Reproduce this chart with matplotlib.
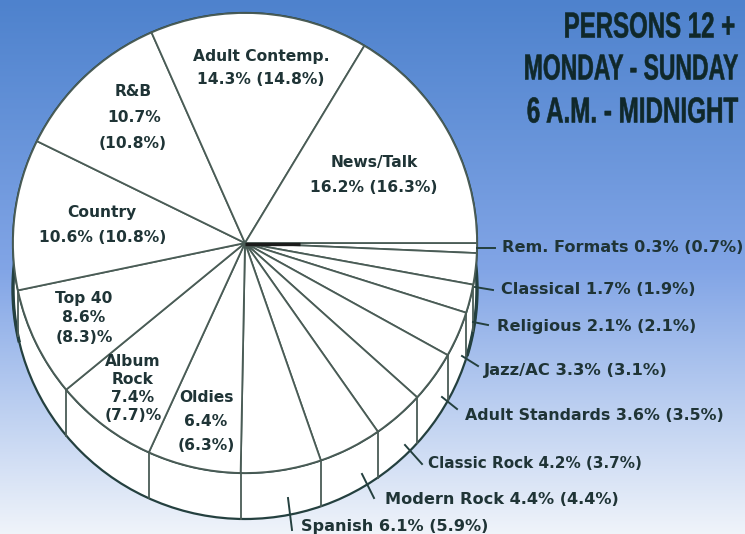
#!/usr/bin/env python3
"""Radio format shares, drawn as a tilted pie on a blue gradient."""

import matplotlib

matplotlib.use("Agg")

import matplotlib.pyplot as plt
import numpy as np
from matplotlib.patches import Ellipse, Wedge
from matplotlib.patheffects import AbstractPathEffect
from matplotlib.transforms import Affine2D

# slices clockwise from 3 o'clock; drawn_share is what the picture shows
slice_names = ["Rem. Formats", "Classical", "Religious", "Jazz/AC", "Adult Standards",
               "Classic Rock", "Modern Rock", "Spanish", "Oldies", "Album Rock", "Top 40",
               "Country", "R&B", "Adult Contemp.", "News/Talk"]
drawn_share = [0.7, 2.2, 2.0, 3.2, 3.6, 3.6, 4.4, 5.6, 6.5, 7.2, 7.7, 10.6, 11.1, 15.2, 16.4]

title_lines = ["PERSONS 12 +", "MONDAY - SUNDAY", "6 A.M. - MIDNIGHT"]
title_y = [28, 70, 113]
title_right = [735, 738, 738]
title_squeeze = [0.665, 0.635, 0.67]

outer_labels = ["Rem. Formats 0.3% (0.7%)", "Classical 1.7% (1.9%)", "Religious 2.1% (2.1%)",
                "Jazz/AC 3.3% (3.1%)", "Adult Standards 3.6% (3.5%)", "Classic Rock 4.2% (3.7%)",
                "Modern Rock 4.4% (4.4%)", "Spanish 6.1% (5.9%)"]
outer_x = [502, 501, 497, 484, 465, 428, 385, 301]
outer_y = [248, 290, 327, 370, 415, 464, 499, 526]
outer_size = [11.6, 11.6, 11.6, 11.8, 11.4, 11.0, 11.6, 11.6]
leader_from = [(477, 248), (475, 287), (473, 322), (462, 356), (442, 397), (405, 445), (362, 474), (288, 498)]
leader_to = [(495, 248), (493, 290), (488, 325), (478, 366), (457, 409), (422, 464), (374, 498), (292, 530)]

inner_labels = ["Adult Contemp.", "14.3% (14.8%)", "R&B", "10.7%", "(10.8%)", "News/Talk",
                "16.2% (16.3%)", "Country", "10.6% (10.8%)", "Top 40", "8.6%", "(8.3)%",
                "Album", "Rock", "7.4%", "(7.7)%", "Oldies", "6.4%", "(6.3%)"]
inner_x = [261, 261, 133, 134, 133, 374, 374, 102, 103, 84, 84, 84, 133, 133, 133, 133, 206, 206, 206]
inner_y = [56, 80, 92, 117, 143, 163, 187, 213, 237, 298, 318, 337, 361, 379, 397, 415, 397, 422, 446]

CX, CY = 245, 243
RX, RY = 232, 230
DEPTH = 46
LINE = "#4a5c56"
EDGE = "#24403f"
INK = "#1f3436"


class Squeeze(AbstractPathEffect):
    """Narrow and thicken the glyphs, there is no condensed font here."""

    def __init__(self, anchor, factor):
        super().__init__()
        self.anchor = anchor
        self.factor = factor

    def draw_path(self, renderer, gc, tpath, affine, rgbFace=None):
        narrow = Affine2D().translate(-self.anchor, 0).scale(self.factor, 1).translate(self.anchor, 0)
        heavy = renderer.new_gc()
        heavy.copy_properties(gc)
        heavy.set_foreground(rgbFace)
        heavy.set_linewidth(0.4)
        renderer.draw_path(heavy, tpath, affine + narrow, rgbFace)
        heavy.restore()


fig = plt.figure(figsize=(7.45, 5.34), dpi=100)
ax = fig.add_axes([0, 0, 1, 1])

# background gradient, blue at the top to near white at the bottom
rows = np.arange(534)
gradient = np.stack([np.interp(rows, [0, 130, 270, 400, 534], stops)
                     for stops in ([78, 102, 130, 185, 240],
                                   [130, 147, 165, 205, 244],
                                   [205, 217, 230, 240, 250])], axis=1) / 255
ax.imshow(gradient[:, None, :], extent=(0, 745, 534, 0), aspect="auto", zorder=0)
ax.set_xlim(0, 745)
ax.set_ylim(534, 0)
ax.axis("off")

# side wall first, then the top face over it
ax.add_patch(Ellipse((CX, CY + DEPTH), 2 * RX, 2 * RY, fc="white", ec=EDGE, lw=1.6, zorder=1))
ax.add_patch(Ellipse((CX, CY), 2 * RX, 2 * RY, fc="white", ec=EDGE, lw=1.6, zorder=2))

# heavy parts of the wall outline at both sides
for first, last in [(-11, 16.5), (167, 192)]:
    t = np.radians(np.linspace(first, last, 40))
    ax.plot(CX + RX * np.cos(t), CY + DEPTH + RY * np.sin(t), color=EDGE, lw=2.4, zorder=2)

face = Affine2D().scale(RX, RY).translate(CX, CY) + ax.transData
boundaries = np.cumsum([0] + drawn_share) / sum(drawn_share) * 360
for start, end in zip(boundaries[:-1], boundaries[1:]):
    ax.add_patch(Wedge((0, 0), 1, start, end, fc="white", ec=LINE, lw=1.3, zorder=3, transform=face))

# vertical seams on the visible part of the wall
for angle in boundaries[1:-1]:
    if 8 < angle < 170:
        t = np.radians(angle)
        x = CX + RX * np.cos(t)
        y = CY + RY * np.sin(t)
        ax.plot([x, x], [y, y + DEPTH], color=LINE, lw=1.3, zorder=4)

# the spokes run together into a dark tip at the centre
ax.plot([CX, CX + 55], [CY + 1, CY + 1], color="#1c1c1c", lw=2.4, zorder=5, solid_capstyle="butt")

for start, end in zip(leader_from, leader_to):
    ax.plot([start[0], end[0]], [start[1], end[1]], color=EDGE, lw=1.4, zorder=5)

for text, x, y in zip(inner_labels, inner_x, inner_y):
    ax.text(x, y, text, ha="center", va="center", fontsize=11.2, fontweight="bold", color=INK, zorder=6)
for text, x, y, size in zip(outer_labels, outer_x, outer_y, outer_size):
    ax.text(x, y, text, ha="left", va="center", fontsize=size, fontweight="bold", color=INK, zorder=6)
for text, y, right, factor in zip(title_lines, title_y, title_right, title_squeeze):
    ax.text(right, y, text, ha="right", va="center", fontsize=26, fontweight="bold", color="#10282a",
            family=["Liberation Sans"], zorder=6, path_effects=[Squeeze(right, factor)])

fig.savefig("out.png", dpi=100)
